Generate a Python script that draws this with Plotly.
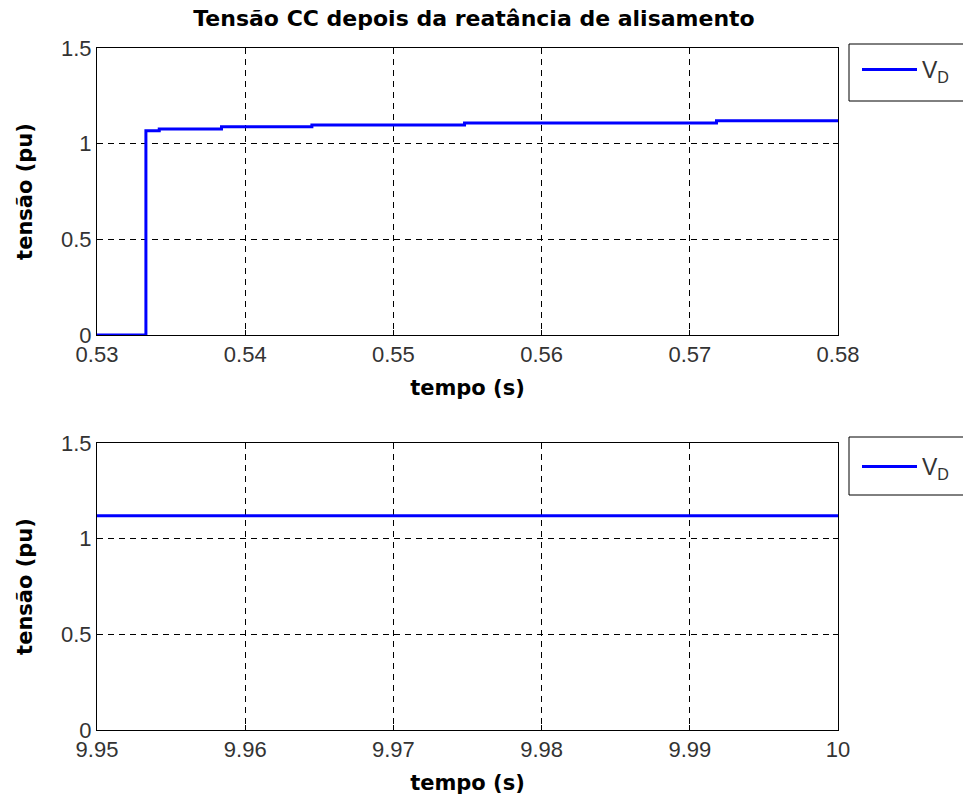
import plotly.graph_objects as go

# top panel: step response right after switching
t_start = [0.53, 0.5333, 0.5342, 0.5384, 0.5445, 0.5548, 0.5718, 0.58]
vd_start = [0.0, 1.068, 1.077, 1.088, 1.098, 1.108, 1.12, 1.12]

# bottom panel: steady state
t_end = [9.95, 10.0]
vd_end = [1.12, 1.12]

top_xticks = [0.53, 0.54, 0.55, 0.56, 0.57, 0.58]
top_xlabels = ["0.53", "0.54", "0.55", "0.56", "0.57", "0.58"]
bot_xticks = [9.95, 9.96, 9.97, 9.98, 9.99, 10.0]
bot_xlabels = ["9.95", "9.96", "9.97", "9.98", "9.99", "10"]
yticks = [0, 0.5, 1, 1.5]
ylabels = ["0", "0.5", "1", "1.5"]

W, H = 971, 807
# page body adds an 8px offset, so plot edges are given 8px up/left
X0, X1 = 89, 830
TOP1, BOT1 = 40, 327
TOP2, BOT2 = 435, 722
L, R, T, B = X0, W - X1, TOP1, H - BOT2
ph = H - T - B
pw = X1 - X0


def py(p):
    return (BOT2 - p) / ph


def px(p):
    return (p - X0) / pw


fig = go.Figure()
fig.add_trace(go.Scatter(x=t_start, y=vd_start, mode="lines", line_shape="hv",
                         line=dict(color="#0000ff", width=3), name="V<sub>D</sub>",
                         xaxis="x", yaxis="y", legend="legend", showlegend=True))
fig.add_trace(go.Scatter(x=t_end, y=vd_end, mode="lines",
                         line=dict(color="#0000ff", width=3), name="V<sub>D</sub>",
                         xaxis="x2", yaxis="y2", legend="legend2", showlegend=True))

tickfont = dict(family="Liberation Sans, Arial", size=22, color="#333333")
titlefont = dict(family="DejaVu Sans", size=21, color="black")

ax_common = dict(showline=True, linecolor="black", linewidth=1, mirror="ticks",
                 ticks="inside", ticklen=5, tickcolor="black",
                 showgrid=True, gridcolor="black", griddash="6px,5px", gridwidth=1,
                 zeroline=False, tickfont=tickfont)

leg_common = dict(borderwidth=0, bgcolor="rgba(0,0,0,0)",
                  font=dict(family="Liberation Sans, Arial", size=23, color="#333333"),
                  xanchor="left", yanchor="top", x=px(849), itemwidth=55)

# legend frames (the reference boxes run past the right edge)
frames = [(36, 93), (429, 487)]
shapes = [dict(type="rect", xref="paper", yref="paper",
               x0=px(841), x1=px(985), y0=py(b), y1=py(t),
               line=dict(color="black", width=1), fillcolor="white", layer="below")
          for t, b in frames]

fig.update_layout(
    width=W, height=H,
    showlegend=True,
    margin=dict(l=L, r=R, t=T, b=B),
    plot_bgcolor="white", paper_bgcolor="white",
    shapes=shapes,
    title=dict(text="<b>Tensão CC depois da reatância de alisamento</b>",
               x=466 / W, xanchor="center", y=1 - 10 / H, yanchor="middle",
               font=dict(family="DejaVu Sans", size=22, color="black")),
    xaxis=dict(domain=[0, 1], anchor="y", range=[0.53, 0.58], tickvals=top_xticks,
               ticktext=top_xlabels,
               title=dict(text="<b>tempo (s)</b>", font=titlefont, standoff=13), **ax_common),
    yaxis=dict(domain=[py(BOT1), 1], anchor="x", range=[0, 1.5], tickvals=yticks,
               ticktext=ylabels,
               title=dict(text="<b>tensão (pu)</b>", font=titlefont, standoff=22), **ax_common),
    xaxis2=dict(domain=[0, 1], anchor="y2", range=[9.95, 10.0], tickvals=bot_xticks,
                ticktext=bot_xlabels,
                title=dict(text="<b>tempo (s)</b>", font=titlefont, standoff=13), **ax_common),
    yaxis2=dict(domain=[0, py(TOP2)], anchor="x2", range=[0, 1.5], tickvals=yticks,
                ticktext=ylabels,
                title=dict(text="<b>tensão (pu)</b>", font=titlefont, standoff=22), **ax_common),
    legend=dict(y=1, **leg_common),
    legend2=dict(y=py(437), **leg_common),
)

fig.write_html("out.html")
